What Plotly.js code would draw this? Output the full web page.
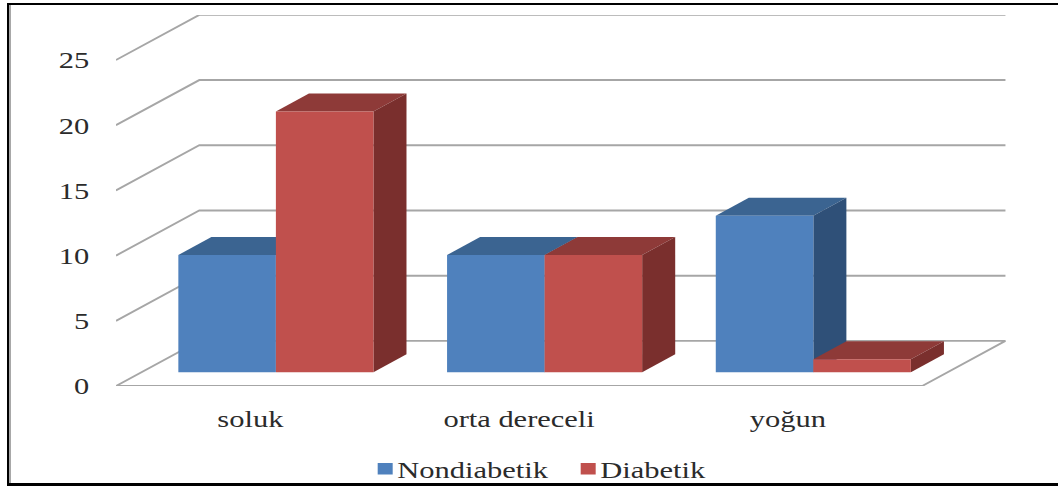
<!DOCTYPE html>
<html>
<head>
<meta charset="utf-8">
<script src="https://cdn.plot.ly/plotly-3.0.1.min.js"></script>
<style>
  html, body { margin: 0; padding: 0; background: #fff; overflow: hidden; }
  #chart { position: absolute; left: 0; top: 0; width: 1058px; height: 486px; overflow: hidden; }
  #frame { position: absolute; left: 7px; top: 3px; right: -6px; bottom: 0;
           border: 2px solid #000; border-width: 2px 0 3px 2px; pointer-events: none;
           box-shadow: inset 2px 0 0 #a8a8a8; }
</style>
</head>
<body>
<div id="chart"></div>
<div id="frame"></div>
<script>
// Grouped bars with a drawn depth: categories and the two series
const categories = ['soluk', 'orta dereceli', 'yoğun'];
const nondiabetik = [9, 9, 12];
const diabetik = [20, 9, 1];
const yTicks = [0, 5, 10, 15, 20, 25];

const COLORS = {
  blue: { front: '#4F81BD', top: '#3B6491', side: '#2F5078' },
  red:  { front: '#C0504D', top: '#8E3A38', side: '#7A2F2D' }
};
const GRID = '#A6A6A6';
const TEXT = '#2B2B2B';

// Projection constants, in axis units (one category = 1 x unit)
const FLOOR_DX = 0.31, FLOOR_DY = 3.46;   // depth of floor and walls
const BAR_DX = 0.123, BAR_DY = 1.38;      // depth of one bar
const BAR_SHIFT = 0.095, BAR_LIFT = 1.05; // front of bars relative to the front of the floor
const BAR_W = 0.363;

const idx = categories.map((_, i) => i);
const traces = [];

// Walls: a diagonal and a back line per tick; the floor closes at the front
const XL = -0.5, XR = 2.5;
yTicks.forEach(v => {
  const isFloor = v === 0;
  traces.push({
    type: 'scatter', mode: 'lines', showlegend: false, hoverinfo: 'skip', cliponaxis: false, zorder: 0,
    x: isFloor ? [XR, XL, XL + FLOOR_DX, XR + FLOOR_DX, XR] : [XL, XL + FLOOR_DX, XR + FLOOR_DX],
    y: isFloor ? [v, v, v + FLOOR_DY, v + FLOOR_DY, v] : [v, v + FLOOR_DY, v + FLOOR_DY],
    line: { color: GRID, width: 1.9 }
  });
});

// Top and side faces of one bar, as filled polygons in data units
function depthFaces(x0, value, col, z) {
  const top = value + BAR_LIFT, x1 = x0 + BAR_W;
  const poly = (xs, ys, color) => ({
    type: 'scatter', mode: 'lines', fill: 'toself', fillcolor: color, showlegend: false, hoverinfo: 'skip',
    cliponaxis: false, zorder: z, x: xs, y: ys, line: { width: 0, color: color }
  });
  return [
    poly([x0, x1, x1 + BAR_DX, x0 + BAR_DX, x0], [top, top, top + BAR_DY, top + BAR_DY, top], col.top),
    poly([x1, x1 + BAR_DX, x1 + BAR_DX, x1, x1],
         [BAR_LIFT, BAR_LIFT + BAR_DY, top + BAR_DY, top, BAR_LIFT], col.side)
  ];
}

function addSeries(name, values, col, offset, z) {
  idx.forEach(i => traces.push(...depthFaces(i + BAR_SHIFT + offset, values[i], col, z)));
  traces.push({
    type: 'bar', name: name, x: idx.map(i => i + BAR_SHIFT), y: values,
    base: BAR_LIFT, width: BAR_W, offset: offset, zorder: z + 1, cliponaxis: false,
    marker: { color: col.front, line: { width: 0 } }
  });
}
addSeries('Nondiabetik', nondiabetik, COLORS.blue, -BAR_W, 1);
addSeries('Diabetik', diabetik, COLORS.red, 0, 3);

const FONT = 'Liberation Serif, Times New Roman, serif';
const SIZE = 24;
// The canvas runs a little past the window so the legend box fits below the last text line
const layout = {
  width: 1058, height: 510,
  margin: { l: 116, r: 52, t: 15, b: 0, pad: 0 },
  paper_bgcolor: '#fff', plot_bgcolor: 'rgba(0,0,0,0)',
  barmode: 'overlay',
  font: { family: FONT, color: TEXT, size: SIZE },
  xaxis: {
    range: [XL, 2.812], showgrid: false, zeroline: false, showline: false, fixedrange: true,
    tickmode: 'array', tickvals: idx, ticktext: categories,
    ticks: 'outside', ticklen: 11, tickcolor: 'rgba(0,0,0,0)', tickfont: { family: FONT, size: SIZE, color: TEXT }
  },
  yaxis: {
    range: [0, 28.45], domain: [124 / 495, 1], showgrid: false, zeroline: false, showline: false, fixedrange: true,
    tickmode: 'array', tickvals: yTicks,
    ticks: 'outside', ticklen: 21, tickcolor: 'rgba(0,0,0,0)', tickfont: { family: FONT, size: SIZE, color: TEXT }
  },
  legend: {
    orientation: 'h', x: 0.271, xanchor: 'left', y: 0.128, yanchor: 'top',
    entrywidth: 158, entrywidthmode: 'pixels', tracegroupgap: 0, itemclick: false, itemdoubleclick: false,
    font: { family: FONT, size: SIZE, color: TEXT }, bgcolor: 'rgba(0,0,0,0)', traceorder: 'normal'
  },
  showlegend: true
};

Plotly.newPlot('chart', traces, layout, { displayModeBar: false }).then(gd => {
  // The labels are set wide: widen each glyph run while keeping it live text
  gd.querySelectorAll('.xtick text, .ytick text, .legendtext').forEach(t => {
    const w = t.getComputedTextLength();
    t.setAttribute('textLength', (w * 1.27).toFixed(1));
    t.setAttribute('lengthAdjust', 'spacingAndGlyphs');
  });
  // Legend keys sit close to their labels
  gd.querySelectorAll('.legendpoints').forEach(p => p.setAttribute('transform', 'translate(3,0) scale(1.25,0.95)'));
});
</script>
</body>
</html>
